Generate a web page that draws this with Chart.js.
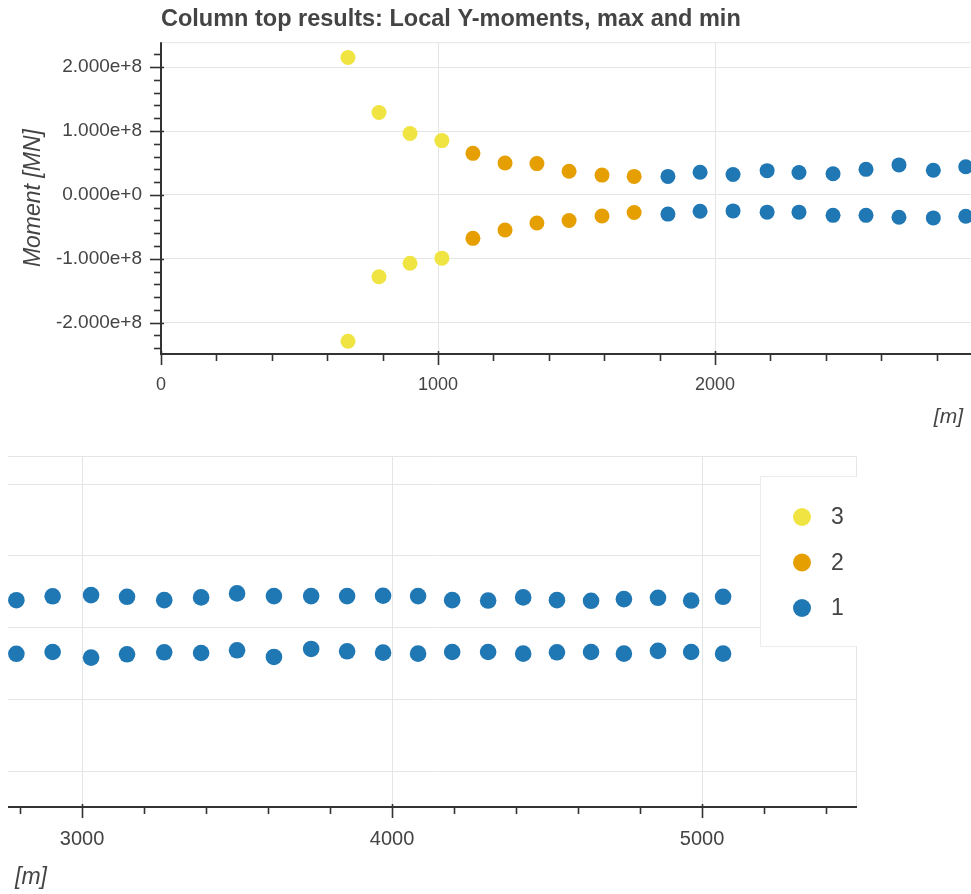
<!DOCTYPE html>
<html>
<head>
<meta charset="utf-8">
<script src="https://cdn.jsdelivr.net/npm/chart.js@4.4.1/dist/chart.umd.min.js"></script>
<style>
  html, body { margin: 0; padding: 0; background: #fff; overflow: hidden; }
  #topChart { position: absolute; left: 0; top: 0; }
  #bottomChart { position: absolute; left: 0; top: 440px; }
</style>
</head>
<body>
<canvas id="topChart" width="971" height="430"></canvas>
<canvas id="bottomChart" width="971" height="454"></canvas>
<script>
// Positions along the column [m] and local Y-moments (max / min) per group
const x3 = [675, 787, 899, 1014];
const max3 = [2.15e8, 1.29e8, 0.96e8, 0.85e8];
const min3 = [-2.29e8, -1.28e8, -1.07e8, -0.99e8];

const x2 = [1126, 1242, 1357, 1473, 1592, 1708];
const max2 = [0.65e8, 0.50e8, 0.49e8, 0.37e8, 0.31e8, 0.29e8];
const min2 = [-0.68e8, -0.55e8, -0.44e8, -0.40e8, -0.33e8, -0.275e8];

const x1 = [1830, 1946, 2065, 2188, 2303, 2426, 2545, 2664, 2788, 2905,
    3029, 3145, 3265, 3384, 3500, 3619, 3739, 3855, 3971, 4084,
    4194, 4310, 4423, 4532, 4642, 4748, 4858, 4965, 5068];
const max1 = [0.29e8, 0.355e8, 0.32e8, 0.38e8, 0.35e8, 0.33e8, 0.40e8, 0.47e8, 0.385e8, 0.44e8,
    0.456e8, 0.433e8, 0.386e8, 0.424e8, 0.48e8, 0.442e8, 0.442e8, 0.442e8, 0.447e8, 0.442e8,
    0.386e8, 0.38e8, 0.424e8, 0.386e8, 0.377e8, 0.40e8, 0.419e8, 0.38e8, 0.433e8];
const min1 = [-0.30e8, -0.255e8, -0.25e8, -0.27e8, -0.27e8, -0.32e8, -0.32e8, -0.35e8, -0.36e8, -0.335e8,
    -0.413e8, -0.367e8, -0.339e8, -0.349e8, -0.311e8, -0.404e8, -0.293e8, -0.325e8, -0.344e8, -0.358e8,
    -0.335e8, -0.335e8, -0.358e8, -0.339e8, -0.335e8, -0.358e8, -0.32e8, -0.335e8, -0.358e8];

const groupNames = ['3', '2', '1'];
const groupColors = ['#f0e442', '#e69f00', '#1f77b4'];

// tick values
const yTicks = [-2e8, -1e8, 0, 1e8, 2e8];
const topXTicks = [0, 1000, 2000];
const bottomXTicks = [3000, 4000, 5000];

const yRange = [-2.49e8, 2.39e8];
const topXRange = [0, 2924];
const bottomXRange = [2761, 5500];

const FONT = '"Liberation Sans", Arial, Helvetica, sans-serif';
const TEXT = '#444444';
const GRID = '#e5e5e5';

function pts(xs, ys) {
    return xs.map((x, i) => ({ x: x, y: ys[i] }));
}

function makeDatasets(radius) {
    const groups = [[x3, max3, min3], [x2, max2, min2], [x1, max1, min1]];
    return groups.map((g, i) => ({
        label: groupNames[i],
        data: pts(g[0], g[1]).concat(pts(g[0], g[2])),
        backgroundColor: groupColors[i],
        borderWidth: 0,
        pointRadius: radius,
        pointHoverRadius: radius,
    }));
}

function fixedTicks(values) {
    return (scale) => {
        scale.ticks = values.map((v) => ({ value: v }));
    };
}

function fitX(height) {
    return (s) => {
        s.height = height;
        s.paddingLeft = 0;
        s.paddingRight = 0;
    };
}

// bokeh-like axes: dark axis line, major + minor ticks, frame outline, extra labels
function bokehAxes(opts) {
    return {
        id: 'bokehAxes',
        beforeDatasetsDraw(chart) {
            const { ctx, chartArea: a } = chart;
            ctx.save();
            ctx.strokeStyle = GRID;
            ctx.lineWidth = 1;
            ctx.beginPath();
            ctx.moveTo(a.left, a.top + 0.5);
            ctx.lineTo(a.right - 0.5, a.top + 0.5);
            if (opts.rightEdge) {
                ctx.lineTo(a.right - 0.5, a.bottom);
            }
            ctx.stroke();
            ctx.restore();
        },
        afterDraw(chart) {
            const { ctx, chartArea: a } = chart;
            const xs = chart.scales.x;
            const ys = chart.scales.y;
            ctx.save();
            ctx.strokeStyle = '#333';
            ctx.lineWidth = 2;
            ctx.beginPath();
            ctx.moveTo(a.left, a.bottom);
            ctx.lineTo(a.right, a.bottom);
            ctx.stroke();
            ctx.lineWidth = 1.6;
            for (let k = Math.ceil(xs.min / 200); k * 200 <= xs.max; k++) {
                const px = Math.round(xs.getPixelForValue(k * 200)) + 0.5;
                const major = k % 5 === 0;
                ctx.beginPath();
                ctx.moveTo(px, a.bottom - (major ? 3 : 0));
                ctx.lineTo(px, a.bottom + (major ? 11 : 7));
                ctx.stroke();
            }
            if (opts.yAxis) {
                ctx.lineWidth = 2;
                ctx.beginPath();
                ctx.moveTo(a.left, a.top);
                ctx.lineTo(a.left, a.bottom + 1);
                ctx.stroke();
                ctx.lineWidth = 1.6;
                for (let k = Math.ceil(ys.min / 2e7); k * 2e7 <= ys.max; k++) {
                    const py = Math.round(ys.getPixelForValue(k * 2e7)) + 0.5;
                    const major = k % 5 === 0;
                    ctx.beginPath();
                    ctx.moveTo(a.left + (major ? 3 : 0), py);
                    ctx.lineTo(a.left - (major ? 11 : 7), py);
                    ctx.stroke();
                }
            }
            // x axis label
            ctx.fillStyle = TEXT;
            ctx.font = 'italic ' + opts.labelSize + 'px ' + FONT;
            ctx.textAlign = opts.xLabel.align;
            ctx.textBaseline = 'middle';
            ctx.fillText('[m]', opts.xLabel.x, opts.xLabel.y);

            if (opts.legend) {
                ctx.save();
                ctx.beginPath();
                ctx.rect(a.left, a.top, a.right - a.left, a.bottom - a.top);
                ctx.clip();
                const bx = a.right - 97, by = a.top + 20;
                ctx.fillStyle = 'rgba(255,255,255,0.95)';
                ctx.fillRect(bx, by, 130, 170);
                ctx.strokeStyle = '#ececec';
                ctx.lineWidth = 1;
                ctx.strokeRect(bx + 0.5, by + 0.5, 130, 170);
                ctx.font = opts.legendSize + 'px ' + FONT;
                ctx.textAlign = 'left';
                ctx.textBaseline = 'middle';
                chart.data.datasets.forEach((ds, i) => {
                    const cy = by + 41 + i * 45.5;
                    ctx.fillStyle = ds.backgroundColor;
                    ctx.beginPath();
                    ctx.arc(bx + 42, cy, 9, 0, Math.PI * 2);
                    ctx.fill();
                    ctx.fillStyle = TEXT;
                    ctx.fillText(ds.label, bx + 71, cy + 1);
                });
                ctx.restore();
            }
            ctx.restore();
        },
    };
}

new Chart(document.getElementById('topChart').getContext('2d'), {
    type: 'scatter',
    data: { datasets: makeDatasets(7.5) },
    options: {
        responsive: false,
        animation: false,
        devicePixelRatio: 1,
        layout: { padding: 0, autoPadding: false },
        plugins: {
            legend: { display: false },
            tooltip: { enabled: false },
            title: {
                display: true,
                text: 'Column top results: Local Y-moments, max and min',
                align: 'start',
                fullSize: false,
                color: TEXT,
                font: { family: FONT, size: 23.5, weight: 'bold' },
                padding: { top: 5, bottom: 9 },
            },
        },
        scales: {
            x: {
                type: 'linear',
                min: topXRange[0],
                max: topXRange[1],
                afterBuildTicks: fixedTicks(topXTicks),
                afterFit: fitX(76),
                border: { display: false },
                grid: { color: GRID, drawTicks: false, tickLength: 0 },
                ticks: {
                    maxRotation: 0,
                    autoSkip: false,
                    padding: 20,
                    color: TEXT,
                    font: { family: FONT, size: 18 },
                    callback: (v) => String(v),
                },
            },
            y: {
                min: yRange[0],
                max: yRange[1],
                afterBuildTicks: fixedTicks(yTicks),
                afterFit: (s) => { s.width = 161; },
                border: { display: false },
                grid: { color: GRID, drawTicks: false, tickLength: 0 },
                ticks: {
                    autoSkip: false,
                    padding: 19,
                    color: TEXT,
                    font: { family: FONT, size: 19 },
                    callback: (v) => Number(v).toExponential(3),
                },
                title: {
                    display: true,
                    text: 'Moment [MN]',
                    color: TEXT,
                    font: { family: FONT, size: 23, style: 'italic' },
                    padding: { top: 20, bottom: 0 },
                },
            },
        },
    },
    plugins: [bokehAxes({ yAxis: true, rightEdge: false, labelSize: 21, xLabel: { x: 963, y: 417, align: 'right' } })],
});

new Chart(document.getElementById('bottomChart').getContext('2d'), {
    type: 'scatter',
    data: { datasets: makeDatasets(8.3) },
    options: {
        responsive: false,
        animation: false,
        devicePixelRatio: 1,
        layout: { padding: { left: 8, right: 114, top: 16, bottom: 0 }, autoPadding: false },
        plugins: {
            legend: { display: false },
            tooltip: { enabled: false },
        },
        scales: {
            x: {
                type: 'linear',
                min: bottomXRange[0],
                max: bottomXRange[1],
                afterBuildTicks: fixedTicks(bottomXTicks),
                afterFit: fitX(87),
                border: { display: false },
                grid: { color: GRID, drawTicks: false, tickLength: 0 },
                ticks: {
                    maxRotation: 0,
                    autoSkip: false,
                    padding: 20,
                    color: TEXT,
                    font: { family: FONT, size: 20 },
                    callback: (v) => String(v),
                },
            },
            y: {
                min: yRange[0],
                max: yRange[1],
                afterBuildTicks: fixedTicks(yTicks),
                afterFit: (s) => { s.width = 0; },
                border: { display: false },
                grid: { color: GRID, drawTicks: false, tickLength: 0 },
                ticks: { display: false },
            },
        },
    },
    plugins: [bokehAxes({ yAxis: false, rightEdge: true, labelSize: 23, legend: true, legendSize: 23, xLabel: { x: 15, y: 438, align: 'left' } })],
});
</script>
</body>
</html>
